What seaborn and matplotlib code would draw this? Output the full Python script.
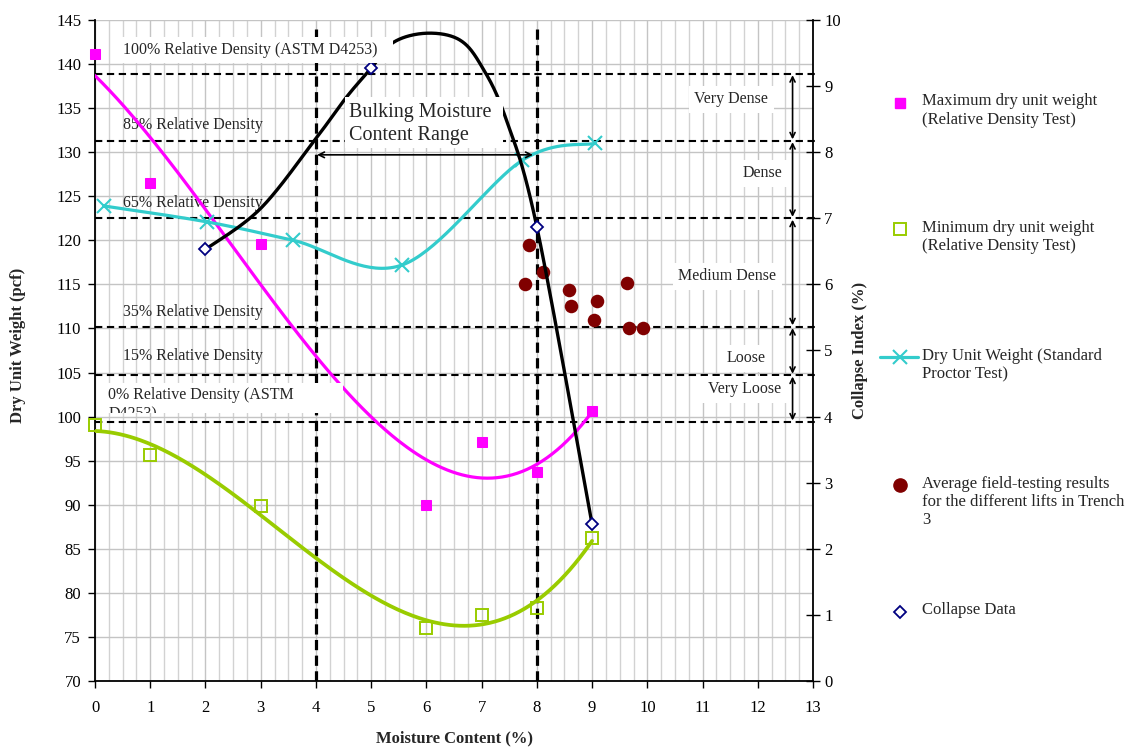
import numpy as np
import matplotlib
matplotlib.use("Agg")
import matplotlib.pyplot as plt
import seaborn as sns
from matplotlib.patches import Rectangle
from matplotlib.ticker import MultipleLocator

# ---------------- data ----------------
moisture_rd = [0, 1, 3, 6, 7, 8, 9]
max_dry = [141.1, 126.5, 119.6, 90.0, 97.1, 93.7, 100.6]
min_dry = [99.0, 95.6, 89.8, 76.0, 77.5, 78.3, 86.2]

proctor_x = [0.16, 2.02, 3.59, 5.56, 7.74, 9.06]
proctor_y = [123.9, 122.1, 120.0, 117.2, 129.1, 131.0]

field_x = [7.79, 7.85, 8.12, 8.59, 8.61, 9.09, 9.04, 9.63, 9.66, 9.92]
field_y = [115.1, 119.5, 116.4, 114.4, 112.5, 113.1, 111.0, 115.2, 110.1, 110.0]

collapse_x = [2, 5, 8, 9]
collapse_y = [6.53, 9.27, 6.87, 2.37]

# hand-drawn collapse trend curve
collapse_curve_x = [2.0, 3.0, 4.02, 4.56, 5.0, 5.4, 6.0, 6.6, 7.0, 7.43, 8.0, 9.0]
collapse_curve_y = [6.53, 7.15, 8.23, 8.84, 9.27, 9.66, 9.8, 9.7, 9.3, 8.53, 6.87, 2.37]

density_labels = ["100% Relative Density (ASTM D4253)", "85% Relative Density",
                  "65% Relative Density", "35% Relative Density",
                  "15% Relative Density", "0% Relative Density (ASTM\nD4253)"]
density_levels = [138.9, 131.3, 122.5, 110.2, 104.7, 99.4]

class_labels = ["Very Dense", "Dense", "Medium Dense", "Loose", "Very Loose"]

bulking_range = [4, 8]

legend_labels = ["Maximum dry unit weight\n(Relative Density Test)",
                 "Minimum dry unit weight\n(Relative Density Test)",
                 "Dry Unit Weight (Standard\nProctor Test)",
                 "Average field-testing results\nfor the different lifts in Trench\n3",
                 "Collapse Data"]

# ---------------- colours ----------------
C_MAX = "#FF00FF"
C_MIN = "#99CC00"
C_PRO = "#33CCCC"
C_FLD = "#800000"
C_COL = "#000080"

sns.set_theme(style="white")
plt.rcParams['font.family'] = ['Liberation Serif', 'DejaVu Serif']
plt.rcParams['font.size'] = 12


def smooth(xs, ys, sx, sy, n=40):
    """Excel-like smoothed line (cubic Bezier / Catmull-Rom in screen space)."""
    P = np.column_stack([np.asarray(xs, float) * sx, np.asarray(ys, float) * sy])
    m = len(P)
    out = []
    t = np.linspace(0, 1, n)[:, None]
    for i in range(m - 1):
        p0 = P[max(i - 1, 0)]
        p1 = P[i]
        p2 = P[i + 1]
        p3 = P[min(i + 2, m - 1)]
        b1 = p1 + (p2 - p0) / 6.0
        b2 = p2 - (p3 - p1) / 6.0
        seg = ((1 - t) ** 3) * p1 + 3 * ((1 - t) ** 2) * t * b1 + 3 * (1 - t) * t ** 2 * b2 + t ** 3 * p2
        out.append(seg if i == 0 else seg[1:])
    out = np.vstack(out)
    return out[:, 0] / sx, out[:, 1] / sy


fig = plt.figure(figsize=(11.36, 7.47), dpi=100)
ax = fig.add_axes([95 / 1136, 66 / 747, 718 / 1136, 661 / 747])
ax2 = ax.twinx()

ax.set_xlim(0, 13)
ax.set_ylim(70, 145)
ax2.set_ylim(0, 10)
ax.xaxis.set_major_locator(MultipleLocator(1))
ax.xaxis.set_minor_locator(MultipleLocator(0.25))
ax.yaxis.set_major_locator(MultipleLocator(5))
ax2.yaxis.set_major_locator(MultipleLocator(1))
ax.set_axisbelow(True)
ax.grid(which='major', axis='both', color='#c4c4c4', lw=1)
ax.grid(which='minor', axis='x', color='#d2d2d2', lw=1)

for s in ['top', 'right']:
    ax.spines[s].set_visible(False)
for s in ['left', 'bottom']:
    ax.spines[s].set_color('black')
    ax.spines[s].set_linewidth(1.3)
for s in ['top', 'left', 'bottom']:
    ax2.spines[s].set_visible(False)
ax2.spines['right'].set_color('black')
ax2.spines['right'].set_linewidth(1.3)

ax.tick_params(axis='both', which='major', direction='out', length=5, width=1,
               color='black', labelsize=12, labelcolor='black', bottom=True, left=True)
ax.tick_params(which='minor', length=0)
ax.tick_params(axis='x', pad=9)
ax.tick_params(axis='y', pad=5)
ax2.tick_params(axis='y', which='major', direction='inout', length=10, width=1,
                color='black', labelsize=12, labelcolor='black', pad=3, right=True)

# ---------------- reference lines (left axis) ----------------
for lvl in density_levels:
    ax.plot([0, 13.08], [lvl, lvl], color='black', lw=1.5, ls=(0, (3.5, 2.2)),
            zorder=2, clip_on=False)
for xv in bulking_range:
    ax.plot([xv, xv], [70, 144.2], color='black', lw=2.3, ls=(0, (3.2, 1.7)), zorder=2)

# ---------------- series ----------------
tx = np.linspace(0, 9, 200)
max_fit = np.polyval(np.polyfit(moisture_rd, max_dry, 3), tx)
min_fit = np.polyval(np.polyfit(moisture_rd, min_dry, 3), tx)

sns.lineplot(x=tx, y=max_fit, ax=ax, color=C_MAX, lw=2.3, zorder=3, estimator=None, sort=False)
sns.lineplot(x=tx, y=min_fit, ax=ax, color=C_MIN, lw=2.7, zorder=3, estimator=None, sort=False)

sns.lineplot(x=moisture_rd, y=max_dry, ax=ax, color=C_MAX, marker='s', markersize=7.5,
             markeredgecolor=C_MAX, linestyle='', zorder=4, estimator=None, sort=False,
             clip_on=False)
sns.lineplot(x=moisture_rd, y=min_dry, ax=ax, color=C_MIN, marker='s', markersize=8,
             markerfacecolor='none', markeredgecolor=C_MIN, markeredgewidth=1.4,
             linestyle='', zorder=4, estimator=None, sort=False, clip_on=False)

px, py = smooth(proctor_x, proctor_y, 55.2, 8.81)
sns.lineplot(x=px, y=py, ax=ax, color=C_PRO, lw=2.3, zorder=3, estimator=None, sort=False)
sns.lineplot(x=proctor_x, y=proctor_y, ax=ax, color=C_PRO, marker='x', markersize=10,
             markeredgewidth=1.5, markeredgecolor=C_PRO, linestyle='', zorder=4,
             estimator=None, sort=False, clip_on=False)

sns.scatterplot(x=field_x, y=field_y, ax=ax, color=C_FLD, s=95, marker='o',
                edgecolor=C_FLD, linewidth=0, zorder=5)

# collapse (right axis)
cx, cy = smooth(collapse_curve_x, collapse_curve_y, 55.2, 66.1)
sns.lineplot(x=cx, y=cy, ax=ax2, color='black', lw=2.4, zorder=2, estimator=None, sort=False)
sns.lineplot(x=collapse_x, y=collapse_y, ax=ax2, color=C_COL, marker='D', markersize=6.5,
             markerfacecolor='white', markeredgecolor=C_COL, markeredgewidth=1.3,
             linestyle='', zorder=3, estimator=None, sort=False, clip_on=False)
ax2.set_ylim(0, 10)
ax.set_xlabel("")
ax.set_ylabel("")
ax2.set_ylabel("")

# ---------------- annotations (on top of everything) ----------------
T = ax.transData
# 100% label box
ax2.add_patch(Rectangle((0.42, 140.12), 4.98, 2.95, transform=T, facecolor='white',
                        edgecolor='none', zorder=6))
ax2.text(0.51, 141.6, density_labels[0], transform=T, fontsize=11.5, va='center',
         ha='left', zorder=7)
# plain labels
for lab, yv in zip(density_labels[1:5], [133.1, 124.2, 111.9, 106.9]):
    ax.text(0.51, yv, lab, fontsize=11.5, va='center', ha='left', zorder=2.5)
# 0% label box (text clipped by the box as in the original)
r0 = Rectangle((0.22, 100.4), 4.27, 3.4, transform=T, facecolor='white',
               edgecolor='none', zorder=6)
ax2.add_patch(r0)
t0 = ax2.text(0.24, 103.4, density_labels[5], transform=T, fontsize=11.5, va='top',
              ha='left', zorder=7, linespacing=1.3)
t0.set_clip_path(r0)
t0.set_clip_on(True)

# Bulking box
ax2.add_patch(Rectangle((4.53, 130.5), 2.86, 5.76, transform=T, facecolor='white',
                        edgecolor='none', zorder=6))
ax2.text(4.60, 133.2, "Bulking Moisture\nContent Range", transform=T, fontsize=14.5,
         va='center', ha='left', zorder=7, linespacing=1.35)
ax2.annotate('', xy=(bulking_range[0] + 0.02, 129.7), xytext=(7.93, 129.7),
             xycoords=T, textcoords=T,
             arrowprops=dict(arrowstyle='<->', lw=1.2, color='black',
                             shrinkA=0, shrinkB=0, mutation_scale=10), zorder=7)

# classification labels and arrows
class_pos = [(11.52, 136.0), (12.08, 127.6), (11.45, 115.9), (11.78, 106.6), (11.76, 103.1)]
for lab, (xv, yv) in zip(class_labels, class_pos):
    ax2.text(xv, yv, lab, transform=T, fontsize=11.5, ha='center', va='center', zorder=7,
             bbox=dict(facecolor='white', edgecolor='none', pad=4))
for top, bot in zip(density_levels[:-1], density_levels[1:]):
    ax2.annotate('', xy=(12.63, top), xytext=(12.63, bot), xycoords=T, textcoords=T,
                 arrowprops=dict(arrowstyle='<->', lw=1.2, color='black',
                                 shrinkA=1, shrinkB=1, mutation_scale=9), zorder=7)

# axis titles
fig.text(454 / 1136, 1 - 738 / 747, "Moisture Content (%)", ha='center', va='center',
         fontsize=12, fontweight='bold')
fig.text(18 / 1136, 1 - 345 / 747, "Dry Unit Weight (pcf)", ha='center', va='center',
         rotation=90, fontsize=12, fontweight='bold')
fig.text(860 / 1136, 1 - 350 / 747, "Collapse Index (%)", ha='center', va='center',
         rotation=90, fontsize=12, fontweight='bold')

# ---------------- legend (manual, Excel-style) ----------------
lax = fig.add_axes([0, 0, 1, 1], zorder=10)
lax.set_xlim(0, 1136)
lax.set_ylim(747, 0)
lax.axis('off')
lax.patch.set_visible(False)
key_y = [102.7, 229, 357, 485, 612]
lax.plot([900], [key_y[0]], marker='s', ms=7.5, color=C_MAX, ls='')
lax.plot([900], [key_y[1]], marker='s', ms=8, mfc='none', mec=C_MIN, mew=1.4, ls='')
lax.plot([880, 918], [key_y[2], key_y[2]], color=C_PRO, lw=2.3)
lax.plot([900], [key_y[2]], marker='x', ms=10, mew=1.5, color=C_PRO, ls='')
lax.plot([900], [key_y[3]], marker='o', ms=9.5, color=C_FLD, ls='')
lax.plot([900], [key_y[4]], marker='D', ms=6.5, mfc='white', mec=C_COL, mew=1.3, ls='')
for lab, yv in zip(legend_labels, key_y):
    lax.text(922, yv - 9.5, lab, fontsize=12, ha='left', va='top', linespacing=1.2)

fig.savefig("out.png", dpi=100)
